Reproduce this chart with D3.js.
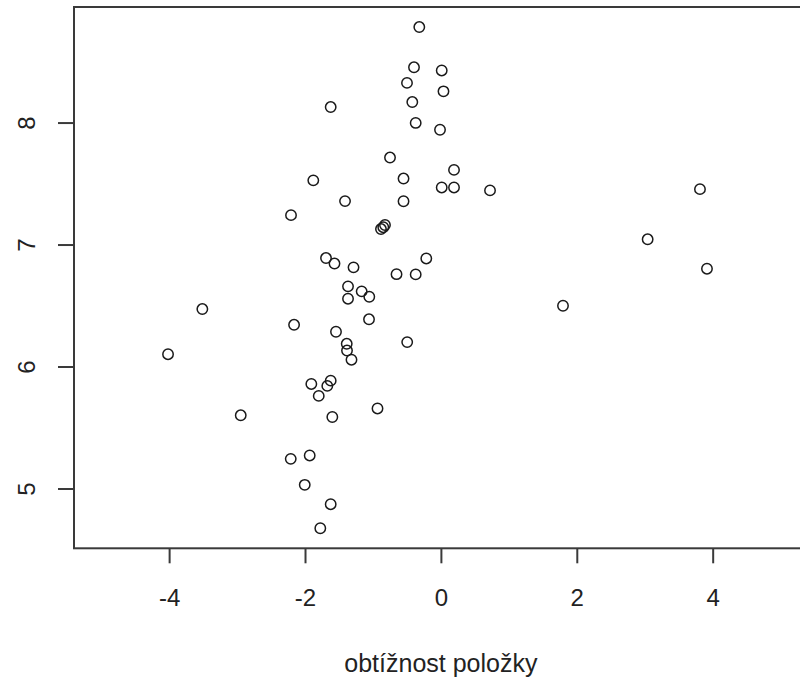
<!DOCTYPE html>
<html>
<head>
<meta charset="utf-8">
<script src="https://cdn.jsdelivr.net/npm/d3@7"></script>
<style>
  html, body { margin: 0; padding: 0; background: #fff; }
  svg { display: block; }
  text { font-family: "Liberation Sans", Arial, sans-serif; fill: #222; }
</style>
</head>
<body>
<svg id="chart" width="800" height="684"></svg>
<script>
// obtížnost položky (item difficulty)
const xValues = [
  -0.318, -0.396, 0.012, -0.499, 0.038, -1.622, -0.421, -0.371, -0.013, -0.749,
  0.193, -1.878, -0.550, 0.012, 0.193, 0.723, 3.813, -1.411, -0.550, -2.206,
  -0.882, -0.848, -0.823, 3.043, -1.691, -1.566, -1.286, -0.215, -0.653, -0.371,
  3.916, -3.511, -1.367, -1.166, -1.054, 1.797, -1.367, -1.058, -2.161, -1.544,
  -0.496, -4.016, -1.386, -1.382, -1.316, -1.907, -1.622, -1.672, -1.798, -0.933,
  -2.946, -1.598, -2.210, -1.931, -2.004, -1.622, -1.775
];
// second variable (y)
const yValues = [
  8.783, 8.453, 8.427, 8.325, 8.256, 8.127, 8.168, 7.997, 7.941, 7.713,
  7.612, 7.526, 7.541, 7.468, 7.468, 7.444, 7.454, 7.356, 7.355, 7.241,
  7.127, 7.142, 7.160, 7.043, 6.889, 6.844, 6.813, 6.886, 6.757, 6.755,
  6.802, 6.471, 6.657, 6.616, 6.572, 6.498, 6.556, 6.387, 6.342, 6.285,
  6.200, 6.101, 6.186, 6.131, 6.056, 5.857, 5.884, 5.841, 5.759, 5.656,
  5.600, 5.586, 5.243, 5.271, 5.030, 4.871, 4.674
];
const xLimits = [-5, 5];
const xTicks = [-4, -2, 0, 2, 4];
const yTicks = [5, 6, 7, 8];
const xLabel = "obtížnost položky";

const points = xValues.map((x, i) => ({ x: x, y: yValues[i] }));

// R-style 4% axis extension
function extend(lo, hi) { const d = (hi - lo) * 0.04; return [lo - d, hi + d]; }

const plot = { left: 74, right: 807.8, top: 7, bottom: 548.3 };

const x = d3.scaleLinear()
  .domain(extend(xLimits[0], xLimits[1]))
  .range([plot.left, plot.right]);
const y = d3.scaleLinear()
  .domain(extend(d3.min(yValues), d3.max(yValues)))
  .range([plot.bottom, plot.top]);

const svg = d3.select("#chart");
const axisColor = "#3a3a3a";

// points
svg.append("g")
  .selectAll("circle")
  .data(points)
  .join("circle")
  .attr("cx", d => x(d.x))
  .attr("cy", d => y(d.y))
  .attr("r", 5.2)
  .attr("fill", "none")
  .attr("stroke", "#1a1a1a")
  .attr("stroke-width", 1.5);

// box
svg.append("rect")
  .attr("x", plot.left)
  .attr("y", plot.top)
  .attr("width", plot.right - plot.left)
  .attr("height", plot.bottom - plot.top)
  .attr("fill", "none")
  .attr("stroke", axisColor)
  .attr("stroke-width", 2);

// x axis
const gx = svg.append("g")
  .attr("transform", `translate(0,${plot.bottom})`)
  .call(d3.axisBottom(x).tickValues(xTicks).tickSize(15).tickPadding(26)
        .tickFormat(d3.format("d")));
gx.select(".domain").remove();
gx.selectAll(".tick line").attr("stroke", axisColor).attr("stroke-width", 2);
gx.selectAll(".tick text")
  .attr("font-size", 24)
  .attr("fill", "#222")
  .style("font-family", "'Liberation Sans', Arial, sans-serif")
  .text(d => d < 0 ? "-" + Math.abs(d) : String(d));

// y axis
const gy = svg.append("g")
  .attr("transform", `translate(${plot.left},0)`)
  .call(d3.axisLeft(y).tickValues(yTicks).tickSize(16).tickFormat(d3.format("d")));
gy.select(".domain").remove();
gy.selectAll(".tick line").attr("stroke", axisColor).attr("stroke-width", 2);
gy.selectAll(".tick text")
  .attr("x", null).attr("dy", null)
  .attr("font-size", 24)
  .attr("fill", "#222")
  .attr("text-anchor", "middle")
  .style("font-family", "'Liberation Sans', Arial, sans-serif")
  .attr("transform", "translate(-39,0) rotate(-90)");

// x label
svg.append("text")
  .attr("x", (plot.left + plot.right) / 2)
  .attr("y", 672)
  .attr("text-anchor", "middle")
  .attr("font-size", 25)
  .text(xLabel);
</script>
</body>
</html>
